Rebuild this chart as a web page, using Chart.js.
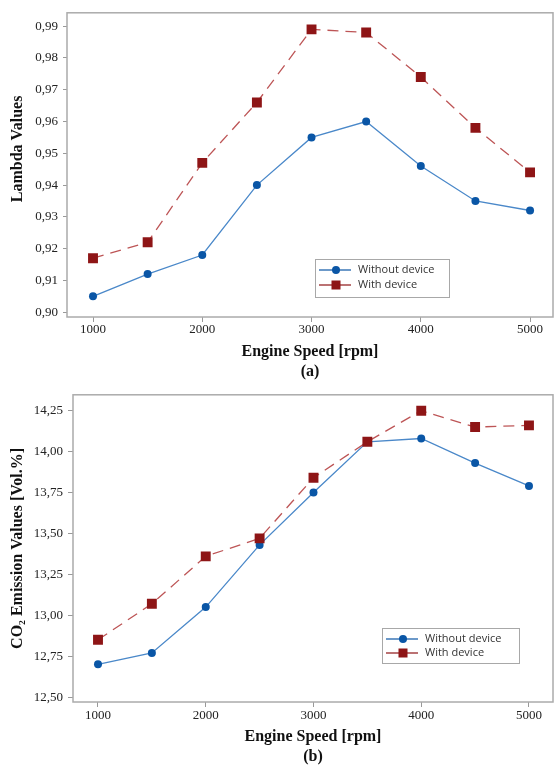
<!DOCTYPE html>
<html><head><meta charset="utf-8">
<script src="https://cdn.jsdelivr.net/npm/chart.js@4.4.1/dist/chart.umd.min.js"></script>
<style>html,body{margin:0;padding:0;background:#fff;} canvas{display:block;}</style>
</head><body>
<canvas id="c1" width="554" height="382"></canvas>
<canvas id="c2" width="554" height="383"></canvas>
<script>
const engineSpeed = [1000, 1500, 2000, 2500, 3000, 3500, 4000, 4500, 5000];
const speedTicks = [1000, 2000, 3000, 4000, 5000];
const lambdaWithout = [0.905, 0.912, 0.918, 0.940, 0.955, 0.960, 0.946, 0.935, 0.932];
const lambdaWith = [0.917, 0.922, 0.947, 0.966, 0.989, 0.988, 0.974, 0.958, 0.944];
const lambdaTicks = [0.90, 0.91, 0.92, 0.93, 0.94, 0.95, 0.96, 0.97, 0.98, 0.99];
const co2Without = [12.70, 12.77, 13.05, 13.43, 13.75, 14.06, 14.08, 13.93, 13.79];
const co2With = [12.85, 13.07, 13.36, 13.47, 13.84, 14.06, 14.25, 14.15, 14.16];
const co2Ticks = [12.50, 12.75, 13.00, 13.25, 13.50, 13.75, 14.00, 14.25];
const seriesLabels = ['Without device', 'With device'];
const xTitle = 'Engine Speed [rpm]';

const BLUE = '#0a56a6', BLUE_LINE = '#4a88c9', RED = '#8e1516', RED_LINE = '#bd5556';
const SERIF = '"Liberation Serif", "Times New Roman", serif';

const frame = {
  id: 'frame',
  beforeDatasetsDraw(chart) {
    const a = chart.chartArea, ctx = chart.ctx;
    ctx.save();
    ctx.strokeStyle = '#ababab'; ctx.lineWidth = 1.5;
    ctx.strokeRect(a.left, a.top, a.right - a.left, a.bottom - a.top);
    ctx.restore();
  }
};

const boxLegend = {
  id: 'boxLegend',
  afterDatasetsDraw(chart, args, o) {
    const ctx = chart.ctx;
    ctx.save();
    ctx.fillStyle = '#fff';
    ctx.fillRect(o.x, o.y, o.w, o.h);
    ctx.strokeStyle = '#a8a8a8'; ctx.lineWidth = 1;
    ctx.strokeRect(o.x + 0.5, o.y + 0.5, o.w, o.h);
    chart.data.datasets.forEach((ds, i) => {
      const y = o.y + o.rows[i];
      ctx.strokeStyle = ds.pointBackgroundColor; ctx.lineWidth = 1.2; ctx.setLineDash([]);
      ctx.beginPath(); ctx.moveTo(o.x + 4, y); ctx.lineTo(o.x + 36, y); ctx.stroke();
      ctx.fillStyle = ds.pointBackgroundColor;
      const cx = o.x + 21;
      if (ds.pointStyle === 'rect') { ctx.fillRect(cx - 4.5, y - 4.5, 9, 9); }
      else { ctx.beginPath(); ctx.arc(cx, y, 4, 0, Math.PI * 2); ctx.fill(); }
      ctx.fillStyle = '#333';
      ctx.font = '11px "Open Sans", sans-serif';
      ctx.textBaseline = 'middle'; ctx.textAlign = 'left';
      ctx.fillText(ds.label, o.x + 43, y);
    });
    ctx.restore();
  }
};

function pts(arr) { return engineSpeed.map((x, i) => ({ x: x, y: arr[i] })); }

function makeChart(id, cfg) {
  return new Chart(document.getElementById(id), {
    type: 'line',
    data: {
      datasets: [
        { label: seriesLabels[0], data: pts(cfg.without), borderColor: BLUE_LINE, backgroundColor: BLUE,
          pointBackgroundColor: BLUE, pointBorderColor: BLUE, pointBorderWidth: 0, pointRadius: 4,
          pointStyle: 'circle', borderWidth: 1.3, tension: 0, order: 2 },
        { label: seriesLabels[1], data: pts(cfg.withD), borderColor: RED_LINE, backgroundColor: RED,
          pointBackgroundColor: RED, pointBorderColor: RED, pointBorderWidth: 0, pointRadius: 7,
          pointStyle: 'rect', borderWidth: 1.3, borderDash: [11, 7], tension: 0, order: 1 }
      ]
    },
    options: {
      responsive: false, animation: false, devicePixelRatio: 1,
      layout: { autoPadding: false, padding: { top: cfg.padTop, right: 1, left: 0, bottom: 0 } },
      plugins: {
        legend: { display: false }, tooltip: { enabled: false },
        boxLegend: cfg.legend
      },
      scales: {
        x: {
          type: 'linear', min: cfg.xMin, max: cfg.xMax,
          afterBuildTicks: s => { s.ticks = speedTicks.map(v => ({ value: v })); },
          afterFit: s => { s.height = cfg.xHeight; s.paddingLeft = 0; s.paddingRight = 0; },
          grid: { display: true, drawOnChartArea: false, drawTicks: true, tickLength: 5, color: '#999' },
          border: { display: false },
          ticks: { padding: cfg.xTickPad, color: '#222', font: { family: SERIF, size: 13 }, maxRotation: 0,
                   callback: v => String(v) },
          title: { display: true, text: [xTitle, cfg.tag], color: '#111',
                   font: { family: SERIF, size: 16, weight: 'bold', lineHeight: 1.25 },
                   padding: { top: 0, bottom: cfg.xTitlePadB } }
        },
        y: {
          type: 'linear', min: cfg.yMin, max: cfg.yMax,
          afterBuildTicks: s => { s.ticks = cfg.yTicks.map(v => ({ value: v })); },
          afterFit: s => { s.width = cfg.yWidth; },
          grid: { display: true, drawOnChartArea: false, drawTicks: true, tickLength: cfg.yTickLen, color: '#999' },
          border: { display: false },
          ticks: { padding: 5, color: '#222', font: { family: SERIF, size: 13 },
                   callback: v => v.toFixed(2).replace('.', ',') },
          title: { display: true, text: ' '.repeat(cfg.yTitleLead) + cfg.yTitle, color: '#111',
                   font: { family: SERIF, size: 16, weight: 'bold', lineHeight: 1.2 },
                   padding: { top: 8, bottom: 0 } }
        }
      }
    },
    plugins: [frame, boxLegend]
  });
}

makeChart('c1', {
  without: lambdaWithout, withD: lambdaWith, yTicks: lambdaTicks,
  yMin: 0.8985, yMax: 0.9942, xMin: 762, xMax: 5210,
  padTop: 8, xHeight: 65, yWidth: 67, yTickLen: 4, xTickPad: 0, xTitlePadB: 0,
  tag: '(a)', yTitle: 'Lambda Values', yTitleLead: 8,
  legend: { x: 315, y: 259, w: 134, h: 38, rows: [11, 26] }
});

makeChart('c2', {
  without: co2Without, withD: co2With, yTicks: co2Ticks,
  yMin: 12.47, yMax: 14.347, xMin: 768, xMax: 5223,
  padTop: 11, xHeight: 63, yWidth: 73, yTickLen: 5, xTickPad: 1, xTitlePadB: -2,
  tag: '(b)', yTitle: 'CO\u2082 Emission Values [Vol.%]', yTitleLead: 0,
  legend: { x: 382, y: 246, w: 137, h: 35, rows: [11, 25] }
});
</script>
</body></html>
